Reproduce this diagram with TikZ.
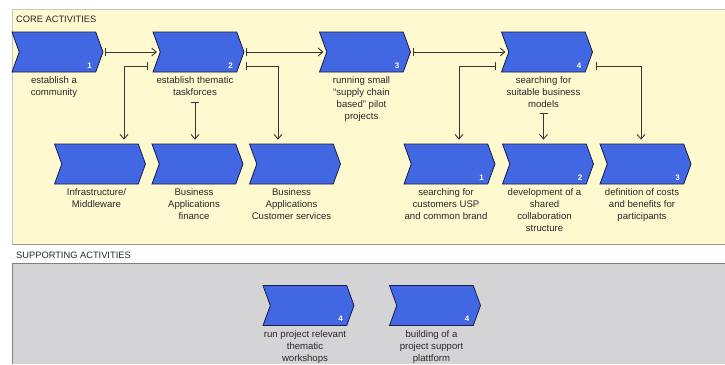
\documentclass[tikz,border=0pt]{standalone}
\usepackage{fontspec}
\setmainfont{Liberation Sans}
\usetikzlibrary{positioning,shapes.symbols,arrows.meta}
\definecolor{chevblue}{RGB}{66,103,226}
\definecolor{chevline}{RGB}{25,28,70}
\definecolor{coreback}{RGB}{255,249,208}
\definecolor{suppback}{RGB}{212,211,213}
\definecolor{txtgray}{RGB}{40,40,40}
\definecolor{linegray}{RGB}{55,55,55}
\tikzset{
  chev/.style={signal, signal to=east, signal from=west, signal pointer angle=140,
    draw=chevline, fill=chevblue, line width=0.8pt,
    minimum width=91pt, minimum height=40pt, inner sep=0pt},
  num/.style={text=white, font=\fontsize{8}{8}\selectfont\bfseries, inner sep=0pt},
  lab/.style={align=center, text=txtgray, font=\fontsize{9.6}{12}\selectfont, inner sep=1pt},
  ptitle/.style={anchor=west, text=txtgray, font=\fontsize{9.3}{10}\selectfont, inner sep=0pt},
  conn/.style={draw=linegray, line width=0.9pt,
    {Bar[width=8pt,line width=0.9pt]}-{Straight Barb[length=4.5pt,width=8pt,line width=0.9pt]}}
}
\begin{document}
\begin{tikzpicture}[x=1pt, y=-1pt]
  \useasboundingbox (0,0) rectangle (725,364);
  % panels
  \fill[coreback] (12,9) rectangle (725,244);
  \draw[gray!45, line width=1pt] (725,9) -- (12,9) -- (12,244);
  \draw[gray!80, line width=1pt] (12,244) -- (725,244);
  \fill[suppback] (12,263) rectangle (725,364);
  \draw[gray, line width=1pt] (12,364) -- (12,263) -- (725,263);
  \node[ptitle] (coretitle) at (16,19.5) {CORE ACTIVITIES};
  \node[ptitle] (supptitle) at (16,255) {SUPPORTING ACTIVITIES};

  % core chain
  \node[chev] (c1) at (57.5,52) {};
  \node[chev] (c2) at (198.5,52) {};
  \node[chev] (c3) at (365,52) {};
  \node[chev] (c4) at (547,52) {};
  \node[num] at ([shift={(32pt,7pt)}]c1.south) {1};
  \node[num] at ([shift={(32pt,7pt)}]c2.south) {2};
  \node[num] at ([shift={(32pt,7pt)}]c3.south) {3};
  \node[num] at ([shift={(32pt,7pt)}]c4.south) {4};
  \node[lab, below=3pt of c1, xshift=-3.5pt] (l1) {establish a\\community};
  \node[lab, below=3pt of c2, xshift=-3.5pt] (l2) {establish thematic\\taskforces};
  \node[lab, below=3pt of c3, xshift=-3.5pt] (l3) {running small\\``supply chain\\based'' pilot\\projects};
  \node[lab, below=3pt of c4, xshift=-3.5pt] (l4) {searching for\\suitable business\\models};

  % sub functions
  \node[chev] (b1) at (100,164) {};
  \node[chev] (b2) at (197.5,164) {};
  \node[chev] (b3) at (295,164) {};
  \node[chev] (b4) at (449.5,164) {};
  \node[chev] (b5) at (548,164) {};
  \node[chev] (b6) at (645.5,164) {};
  \node[num] at ([shift={(32pt,7pt)}]b4.south) {1};
  \node[num] at ([shift={(32pt,7pt)}]b5.south) {2};
  \node[num] at ([shift={(32pt,7pt)}]b6.south) {3};
  \node[lab, below=3pt of b1, xshift=-3.5pt] (lb1) {Infrastructure/\\Middleware};
  \node[lab, below=3pt of b2, xshift=-3.5pt] (lb2) {Business\\Applications\\finance};
  \node[lab, below=3pt of b3, xshift=-3.5pt] (lb3) {Business\\Applications\\Customer services};
  \node[lab, below=3pt of b4, xshift=-3.5pt] (lb4) {searching for\\customers USP\\and common brand};
  \node[lab, below=3pt of b5, xshift=-3.5pt] (lb5) {development of a\\shared\\collaboration\\structure};
  \node[lab, below=3pt of b6, xshift=-3.5pt] (lb6) {definition of costs\\and benefits for\\participants};

  % supporting
  \node[chev] (g1) at (308.5,305.5) {};
  \node[chev] (g2) at (435,305.5) {};
  \node[num] at ([shift={(32pt,7pt)}]g1.south) {4};
  \node[num] at ([shift={(32pt,7pt)}]g2.south) {4};
  \node[lab, below=3pt of g1, xshift=-3.5pt] (lg1) {run project relevant\\thematic\\workshops};
  \node[lab, below=3pt of g2, xshift=-3.5pt] (lg2) {building of a\\project support\\plattform};

  % connectors
  \draw[conn, shorten <=2pt, shorten >=3pt] (c1.east) -- (c2.west);
  \draw[conn, shorten <=2pt, shorten >=3pt] (c2.east) -- (c3.west);
  \draw[conn, shorten <=2pt, shorten >=3pt] (c3.east) -- (c4.west);
  \draw[conn, shorten >=4pt] ([shift={(-5pt,6pt)}]c2.south west) -| ([xshift=24pt]b1.north);
  \draw[conn, shorten >=4pt] ([shift={(9pt,6pt)}]c2.south east) -| ([xshift=-17pt]b3.north);
  \draw[conn, shorten >=4pt] ([yshift=-5pt]l2.south) -- (l2.south |- b2.north);
  \draw[conn, shorten >=4pt] ([shift={(-5pt,6pt)}]c4.south west) -| ([xshift=9.5pt]b4.north);
  \draw[conn, shorten >=4pt] ([shift={(10pt,6pt)}]c4.south east) -| ([xshift=-4.5pt]b6.north);
  \draw[conn, shorten >=4pt] ([yshift=-4pt]l4.south) -- (l4.south |- b5.north);
\end{tikzpicture}
\end{document}
